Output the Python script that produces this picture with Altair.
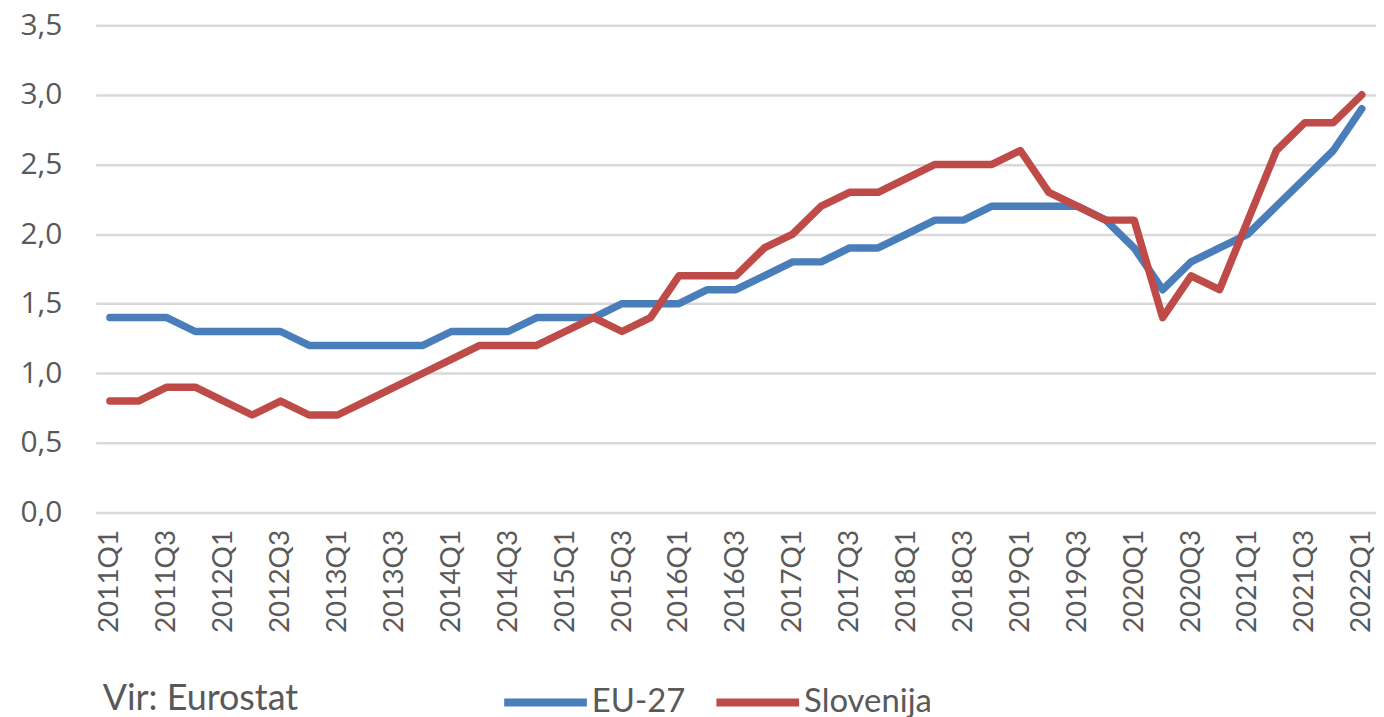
import altair as alt
import pandas as pd

quarters = [f"{y}Q{q}" for y in range(2011, 2022) for q in range(1, 5)] + ["2022Q1"]

eu27 = [1.4, 1.4, 1.4, 1.3, 1.3, 1.3, 1.3, 1.2, 1.2, 1.2, 1.2, 1.2,
        1.3, 1.3, 1.3, 1.4, 1.4, 1.4, 1.5, 1.5, 1.5, 1.6, 1.6, 1.7,
        1.8, 1.8, 1.9, 1.9, 2.0, 2.1, 2.1, 2.2, 2.2, 2.2, 2.2, 2.1,
        1.9, 1.6, 1.8, 1.9, 2.0, 2.2, 2.4, 2.6, 2.9]

slovenija = [0.8, 0.8, 0.9, 0.9, 0.8, 0.7, 0.8, 0.7, 0.7, 0.8, 0.9, 1.0,
             1.1, 1.2, 1.2, 1.2, 1.3, 1.4, 1.3, 1.4, 1.7, 1.7, 1.7, 1.9,
             2.0, 2.2, 2.3, 2.3, 2.4, 2.5, 2.5, 2.5, 2.6, 2.3, 2.2, 2.1,
             2.1, 1.4, 1.7, 1.6, 2.1, 2.6, 2.8, 2.8, 3.0]

series_names = ["EU-27", "Slovenija"]
series_colors = ["#4A7EBB", "#BE4B48"]
tick_labels = quarters[::2]
y_ticks = [0, 0.5, 1.0, 1.5, 2.0, 2.5, 3.0, 3.5]

df = pd.concat([
    pd.DataFrame({"q": quarters, "v": eu27, "s": series_names[0]}),
    pd.DataFrame({"q": quarters, "v": slovenija, "s": series_names[1]}),
])

grey = "#595959"

lines = alt.Chart(df).mark_line(strokeWidth=7.5, strokeJoin="round", strokeCap="round").encode(
    x=alt.X("q:O", sort=quarters,
            scale=alt.Scale(type="point", padding=0.5),
            axis=alt.Axis(values=tick_labels, labelAngle=-90, labelPadding=17,
                          labelFont="Lato", labelFontSize=28, labelColor=grey,
                          domain=False, ticks=False, grid=False, title=None,
                          labelOverlap=False, labelBound=False)),
    y=alt.Y("v:Q", scale=alt.Scale(domain=[0, 3.5], nice=False),
            axis=alt.Axis(values=y_ticks, labelExpr="replace(format(datum.value, '.1f'), '.', ',')",
                          labelFont="Open Sans", labelFontSize=30, labelColor=grey,
                          labelPadding=34, domain=False, ticks=False,
                          gridColor="#D9D9D9", gridWidth=2.5, title=None)),
    color=alt.Color("s:N", scale=alt.Scale(domain=series_names, range=series_colors),
                    legend=alt.Legend(orient="none", legendX=406, legendY=634,
                                      direction="horizontal", title=None,
                                      symbolType="stroke", symbolSize=6889,
                                      symbolStrokeWidth=8, labelOffset=1,
                                      columnPadding=15, padding=0,
                                      labelFont="Lato", labelFontSize=33,
                                      labelColor=grey)),
)

source = alt.Chart(pd.DataFrame({"t": ["Vir: Eurostat"]})).mark_text(
    align="left", baseline="middle", font="Lato", fontSize=36, color=grey
).encode(text="t:N", x=alt.value(7), y=alt.value(676))

chart = alt.layer(lines, source).properties(
    width=1285, height=489,
    background="white",
    autosize=alt.AutoSizeParams(type="none"),
    padding={"left": 88, "top": 16, "right": 0, "bottom": 205},
).configure_view(strokeWidth=0, stroke="transparent").configure_axis(domain=False).configure_axisX(grid=False)

chart.save("out.html", embed_options={"renderer": "svg", "actions": False})
